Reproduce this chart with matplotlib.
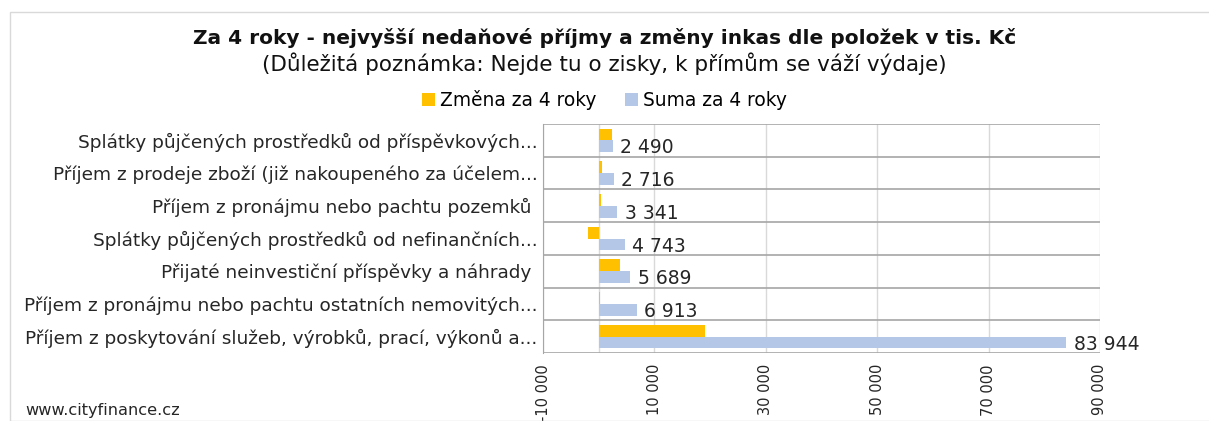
import numpy as np
import matplotlib
matplotlib.use("Agg")
import matplotlib.pyplot as plt

plt.rcParams['font.family'] = ['DejaVu Sans']

categories = [
    "Splátky půjčených prostředků od příspěvkových...",
    "Příjem z prodeje zboží (již nakoupeného za účelem...",
    "Příjem z pronájmu nebo pachtu pozemků ",
    "Splátky půjčených prostředků od nefinančních...",
    "Přijaté neinvestiční příspěvky a náhrady ",
    "Příjem z pronájmu nebo pachtu ostatních nemovitých...",
    "Příjem z poskytování služeb, výrobků, prací, výkonů a...",
]
zmena = [2400, 600, 400, -1900, 3800, 300, 19000]
suma = [2490, 2716, 3341, 4743, 5689, 6913, 83944]

series_names = ["Změna za 4 roky", "Suma za 4 roky"]
ticks = [-10000, 10000, 30000, 50000, 70000, 90000]

c_orange = '#FFC000'
c_blue = '#B4C7E7'
c_text = '#262626'

def fmt(v):
    return f"{v:,}".replace(",", " ")

fig = plt.figure(figsize=(12.09, 4.21), dpi=100)
ax = fig.add_axes([543 / 1209, 68 / 421, 557 / 1209, 229 / 421])

y = np.arange(len(categories))
h = 0.36
ax.barh(y - h / 2, zmena, height=h, color=c_orange, label=series_names[0], zorder=3)
ax.barh(y + h / 2, suma, height=h, color=c_blue, label=series_names[1], zorder=3)

for yi, v in zip(y, suma):
    ax.text(v + 1300, yi + h / 2 + 0.05, fmt(v), va='center', ha='left',
            fontsize=13.5, color=c_text)

ax.set_xlim(-10000, 90000)
ax.set_ylim(len(categories) - 0.5, -0.5)
ax.set_xticks(ticks)
ax.set_xticklabels([fmt(t) for t in ticks], rotation=90, fontsize=10.5, color=c_text)
ax.set_yticks(y)
ax.set_yticklabels(categories, fontsize=13.3, color=c_text)
ax.tick_params(axis='y', length=0, pad=4)
ax.tick_params(axis='x', length=0, pad=8)

for xv in ticks:
    ax.axvline(xv, color='#d9d9d9', lw=1, zorder=1)
ax.axvline(0, color='#d9d9d9', lw=1, zorder=1)
for b in np.arange(-0.5, len(categories), 1.0):
    ax.axhline(b, color='#a6a6a6', lw=1.2, zorder=2)

for s in ax.spines.values():
    s.set_visible(False)
ax.spines['left'].set_visible(True)
ax.spines['left'].set_color('#a6a6a6')

fig.text(0.5, 1 - 38 / 421, "Za 4 roky - nejvyšší nedaňové příjmy a změny inkas dle položek v tis. Kč",
         ha='center', va='center', fontsize=14.5, fontweight='bold', color='#111111')
fig.text(0.5, 1 - 64 / 421, "(Důležitá poznámka: Nejde tu o zisky, k přímům se váží výdaje)",
         ha='center', va='center', fontsize=15.5, color='#111111')

fig.legend(loc='center', bbox_to_anchor=(0.5, 1 - 100 / 421), ncol=2, frameon=False,
           fontsize=13.4, handlelength=0.7, handleheight=0.7, columnspacing=1.5,
           handletextpad=0.3)

fig.text(25 / 1209, 1 - 411 / 421, "www.cityfinance.cz", ha='left', va='center',
         fontsize=11.6, color=c_text)

border = plt.Rectangle((10 / 1209, 0), 1.2, 1 - 12 / 421, transform=fig.transFigure,
                       fill=False, edgecolor='#d9d9d9', lw=1)
fig.patches.append(border)

fig.savefig('out.png', dpi=100)
